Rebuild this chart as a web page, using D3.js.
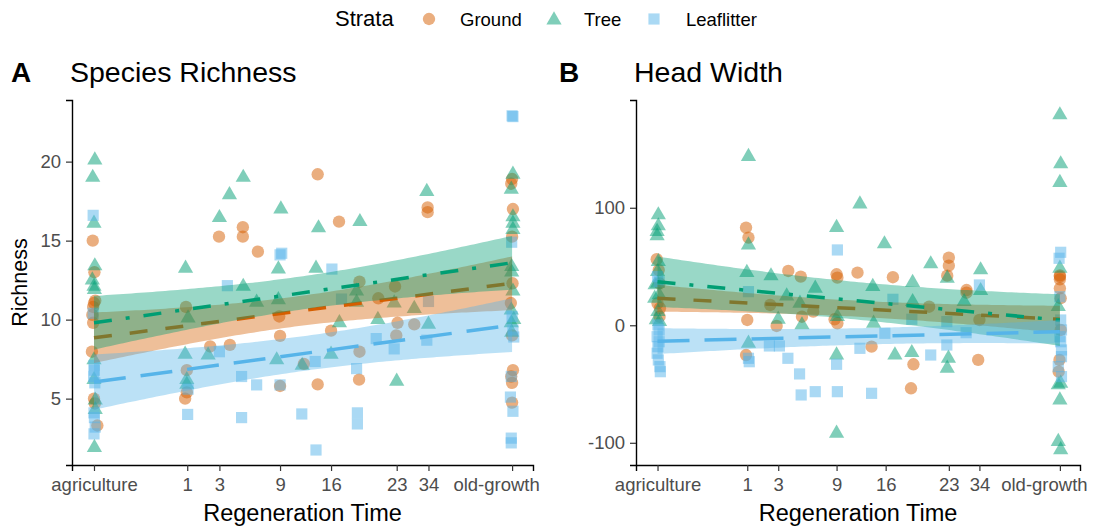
<!DOCTYPE html>
<html>
<head>
<meta charset="utf-8">
<script src="https://cdn.jsdelivr.net/npm/d3@7"></script>
<style>
  body { margin: 0; background: #fff; }
  svg { display: block; }
  text { font-family: "Liberation Sans", Arial, Helvetica, sans-serif; }
</style>
</head>
<body>
<svg id="chart" width="1093" height="526"></svg>
<script>
// ---- Categories and styling keys -------------------------------------------
const strata = ["Ground", "Tree", "Leaflitter"];
const strataColors = ["#D55E00", "#009E73", "#56B4E9"];

// Regeneration-time axis: sites placed on a 0 (agriculture) .. 100 (old-growth) position index
const timeTicks = [0, 22.3, 30, 44.5, 56.7, 72.4, 80, 100];
const timeTickLabels = ["agriculture", "1", "3", "9", "16", "23", "34", "old-growth"];

const richnessTicks = [5, 10, 15, 20];
const widthTicks = [-100, 0, 100];

// ---- Panel A: species richness observations [site position, richness] ------
const richnessGround = [
  [-0.3, 15.0], [0.1, 13.0], [0.3, 11.2], [0, 11.05], [-0.2, 10.8], [-0.4, 10.3], [-0.2, 9.8],
  [-0.5, 7.97], [0, 5.0], [0.2, 4.7], [0.8, 3.3],
  [22, 10.8], [22.2, 6.8], [22.2, 5.4], [21.8, 5.0],
  [27.8, 8.3], [29.9, 15.25], [32.5, 8.4], [35.6, 15.85], [35.6, 15.25], [39.2, 14.3],
  [44.3, 10.2], [44.5, 8.97], [44.5, 5.8], [50.2, 7.2], [53.5, 19.2], [53.5, 5.9],
  [56.7, 9.3], [58.6, 16.2], [63.5, 12.4], [63.5, 7.97], [63.4, 6.2], [68, 11.35],
  [72, 12.1], [72.6, 9.8], [72.3, 9.0], [76.6, 9.7], [79.8, 17.1], [79.8, 16.8],
  [100, 18.9], [99.8, 18.6], [100.2, 17.0], [100, 15.25], [100.1, 12.3], [99.7, 11.05],
  [100, 9.0], [100.2, 6.8], [99.8, 6.4], [100, 6.0], [100, 4.75]
];
const richnessTree = [
  [0.2, 20.1], [-0.3, 19.0], [0, 16.1], [0.2, 13.4], [-0.4, 12.5], [0, 12.1], [0.1, 11.9],
  [0, 7.45], [0, 6.2], [0.3, 4.9], [0.3, 4.3], [0.1, 1.9],
  [21.9, 13.25], [22.5, 10.1], [21.8, 7.8], [22.2, 6.2], [22.2, 5.9],
  [27.3, 7.75], [30, 16.45], [32.4, 17.9], [35.7, 19.0], [35.7, 12.1], [38.9, 11.1],
  [44.7, 17.0], [44.1, 13.2], [44.1, 11.25], [43.7, 7.45], [49.8, 7.1],
  [53.7, 15.8], [53.1, 13.25], [56.7, 7.8], [58.7, 9.8], [62.8, 11.8], [62.8, 11.1],
  [63.6, 16.2], [67.9, 10.0], [71.8, 11.05], [72.4, 6.1], [76.6, 10.7], [79.6, 18.1], [80, 9.7],
  [100.2, 19.2], [99.8, 18.25], [100.2, 16.5], [100.2, 16.1], [100.2, 15.7], [99.9, 13.35],
  [99.9, 13.0], [100.2, 11.8], [99.8, 10.6], [100.4, 10.0], [99.8, 9.8], [99.9, 9.2]
];
const richnessLeaf = [
  [-0.2, 16.6], [-0.2, 10.4], [0, 7.1], [0.1, 6.8], [-0.1, 6.4], [0.2, 6.0], [0, 4.1],
  [0.1, 3.8], [0.3, 3.2], [0, 2.77],
  [22.5, 5.6], [22.4, 4.0], [30, 7.97], [31.9, 12.15], [35.3, 6.4], [35.3, 3.8], [38.9, 5.87],
  [44.5, 14.1], [44.9, 14.2], [44.5, 5.87], [49.7, 4.03], [52.9, 7.35], [53.1, 1.75],
  [56.9, 13.2], [59.2, 11.3], [62.8, 6.9], [63, 4.1], [63, 3.4], [67.5, 8.8], [71.8, 8.15],
  [79.6, 8.7], [80, 11.15],
  [100, 22.9], [100.2, 22.85], [99.9, 14.9], [100, 10.2], [100.2, 9.35], [100.4, 8.9],
  [99.8, 6.4], [99.6, 5.1], [100.2, 4.2], [99.8, 2.5], [99.8, 2.2]
];

// Panel A fitted trends: value at agriculture and old-growth, CI half-widths at 0 / 50 / 100
const richnessFitStart = [8.85, 9.8, 6.05];
const richnessFitEnd = [12.3, 13.6, 9.65];
const richnessCI = [[1.6, 0.95, 1.7], [1.7, 1.05, 1.7], [1.75, 1.1, 1.7]];

// ---- Panel B: head width observations [site position, head width] ----------
const widthGround = [
  [-0.2, 56.2], [0.3, 47], [0.5, 35.7], [0, 18.7], [0.6, 14.5], [0.5, 7.3],
  [22, 83.1], [22.6, 74.6], [22.3, 4.5], [22, -25.3],
  [28, 17.3], [29.6, -0.6], [32.5, 46.2], [35.6, 41.4], [35.9, 7.3], [38.7, 11.6],
  [44.5, 43.4], [44.7, 40.5], [44, 5.1], [44.7, 1.7], [49.7, 44.8], [53.2, -18.2],
  [58.5, 40.9], [63, -53.6], [63.6, -33.2], [67.5, 15.8], [72.4, 57.5], [72.4, 50.7],
  [72, 42.2], [76.8, 30], [76.8, 27.7], [79.7, -29.5], [80, 4.5],
  [100, 42.5], [100, 41.4], [100, 39.1], [100, 31.5], [100.2, 23], [100.2, -4],
  [99.9, -29.5], [99.7, -39.5]
];
const widthTree = [
  [0.2, 93.9], [0.2, 84.5], [-0.1, 79.7], [-0.1, 76.0], [0.2, 54.1], [0, 45.6], [0, 35.7],
  [-0.6, 34.3], [0.4, 25.8], [-0.7, 23], [0.1, 11.6], [-0.3, 4.5], [0.5, 3.1],
  [22.6, 143.5], [22.6, 68.3], [22.2, 44.8], [22.6, -15.3],
  [28.2, 42], [30, 5.1], [32.1, 24.9], [35.4, 18.7], [35.9, 0.3], [39.2, 31.5],
  [44.5, 83.1], [44.7, 7.3], [44.5, -25.3], [44.5, -91.9], [50.3, 103.2],
  [53.5, 32.9], [53.7, 1.7], [56.4, 69.2], [59, -25.3], [63.4, 36.3], [63.4, 20.1],
  [63.2, -23.3], [67.9, 52.2], [72, 40], [72.3, -28.1], [72, -36.6], [76.2, 20.1],
  [80.3, 47.1], [80.3, 29.4],
  [100, 179], [100.2, 137.3], [100, 121.4], [100, 48.5], [99.6, 15.8], [100.2, -49.4],
  [99.6, -50.8], [100, -63.6], [99.6, -99], [100.2, -106]
];
const widthLeaf = [
  [0, 41.4], [0.4, 37.1], [0.1, 0.3], [0.4, -4], [-0.1, -9.7], [0.4, -14], [0.1, -18.2],
  [-0.1, -23.8], [0.2, -29.5], [0.6, -35.2], [0.7, -39.5],
  [22.6, 28.6], [22.6, -28.1], [22.8, -31],
  [27.8, -17.6], [30.3, -17.6], [32.4, -28.1], [35.3, -41.4], [35.7, -59.3], [39.2, -56.5],
  [44.7, 64.1], [44.5, -33.2], [44.7, -56.5], [50.3, -19.6], [53.2, -57.9], [56.5, -6.8],
  [58.5, 22.1], [63.2, 5.1], [67.9, -25.3], [71.9, 3.1], [71.9, -16.8], [76.7, -6.3],
  [80, 34.3],
  [100.2, 62.1], [99.8, 57.0], [100, 24.3], [100.2, 4.5], [100.4, -4], [100, -9.7],
  [100.2, -14], [100.4, -21], [100.4, -26.7], [99.6, -35.2], [100.4, -43.7]
];

// Panel B fitted trends
const widthFitStart = [23, 37, -13.5];
const widthFitEnd = [5.1, 4.4, -5.5];
const widthCI = [[11.4, 6.8, 11.5], [21.5, 16, 22], [11, 7, 10]];

// ---- Drawing -----------------------------------------------------------------
const svg = d3.select("#chart");
const symbolTypes = [d3.symbolCircle, d3.symbolTriangle, d3.symbolSquare];
const symbolSizes = [120, 100, 125];
const dashes = ["18,18", "18,14,4,14", "32,15"];
const tickGrey = "#4d4d4d";

// CI half-width along x: variance quadratic in x through the three given half-widths
function halfWidth(ci, x) {
  const a = ci[1] * ci[1];
  const b = (ci[2] * ci[2] - ci[0] * ci[0]) / 100;
  const c = ((ci[0] * ci[0] + ci[2] * ci[2]) / 2 - a) / 2500;
  const d = x - 50;
  return Math.sqrt(Math.max(0, a + b * d + c * d * d));
}

function drawPanel(cfg) {
  const g = svg.append("g");
  const x = d3.scaleLinear().domain(cfg.xDomain).range([cfg.left, cfg.right]);
  const y = d3.scaleLinear().domain(cfg.yDomain).range([cfg.bottom, cfg.top]);

  // points
  cfg.points.forEach((pts, i) => {
    g.append("g").selectAll("path").data(pts).join("path")
      .attr("transform", d => `translate(${x(d[0])},${y(d[1])})`)
      .attr("d", d3.symbol().type(symbolTypes[i]).size(symbolSizes[i]))
      .attr("fill", strataColors[i])
      .attr("fill-opacity", 0.5);
  });

  // ribbons and trend lines, one stratum at a time
  const xs = d3.range(0, 100.001, 1);
  strata.forEach((s, i) => {
    const fit = v => cfg.fitStart[i] + (cfg.fitEnd[i] - cfg.fitStart[i]) * v / 100;
    const area = d3.area()
      .x(v => x(v))
      .y0(v => y(fit(v) - halfWidth(cfg.ci[i], v)))
      .y1(v => y(fit(v) + halfWidth(cfg.ci[i], v)));
    g.append("path").attr("d", area(xs))
      .attr("fill", strataColors[i]).attr("fill-opacity", 0.4);
    g.append("path")
      .attr("d", d3.line().x(v => x(v)).y(v => y(fit(v)))([0, 100]))
      .attr("fill", "none")
      .attr("stroke", strataColors[i])
      .attr("stroke-width", 3.5)
      .attr("stroke-dasharray", dashes[i]);
  });

  // axes
  const xAxis = g.append("g").attr("transform", `translate(0,${cfg.bottom})`)
    .call(d3.axisBottom(x).tickValues(timeTicks)
      .tickFormat((d, k) => timeTickLabels[k]).tickSizeOuter(0).tickSize(6).tickPadding(5));
  const yAxis = g.append("g").attr("transform", `translate(${cfg.left},0)`)
    .call(d3.axisLeft(y).tickValues(cfg.yTicks).tickSizeOuter(0).tickSize(6).tickPadding(5)
      .tickFormat(d => d3.format("d")(d).replace("\u2212", "-")));
  [xAxis, yAxis].forEach(a => {
    a.select(".domain").attr("stroke", "#000").attr("stroke-width", 1.4);
    a.selectAll(".tick line").attr("stroke", "#333").attr("stroke-width", 1.2);
    a.selectAll(".tick text").attr("fill", tickGrey).style("font-size", "18.5px")
      .style("font-family", "'Liberation Sans', Arial, sans-serif");
  });
  xAxis.selectAll(".tick text").attr("dy", "0.8em");
  // the last label sits a little left of its tick
  xAxis.selectAll(".tick text").filter((d, k) => k === timeTicks.length - 1).attr("dx", -16);

  // titles
  svg.append("text").attr("x", cfg.tagX).attr("y", 82).text(cfg.tag)
    .style("font-size", "28px").style("font-weight", "bold").attr("fill", "#000");
  svg.append("text").attr("x", cfg.left - 2).attr("y", 82).text(cfg.title)
    .style("font-size", "28.5px").attr("fill", "#000");
  svg.append("text").attr("x", (cfg.left + cfg.right) / 2).attr("y", 521)
    .attr("text-anchor", "middle").text("Regeneration Time")
    .style("font-size", "23.5px").attr("fill", "#000");
  if (cfg.yTitle) {
    svg.append("text")
      .attr("transform", `translate(27,${(cfg.top + cfg.bottom) / 2}) rotate(-90)`)
      .attr("text-anchor", "middle").text(cfg.yTitle)
      .style("font-size", "21.5px").attr("fill", "#000");
  }
}

drawPanel({
  left: 72, right: 533, top: 100, bottom: 465,
  xDomain: [-5.26, 105.0], yDomain: [0.8, 23.9], yTicks: richnessTicks,
  points: [richnessGround, richnessTree, richnessLeaf],
  fitStart: richnessFitStart, fitEnd: richnessFitEnd, ci: richnessCI,
  tag: "A", tagX: 11, title: "Species Richness", yTitle: "Richness"
});
drawPanel({
  left: 636, right: 1080, top: 100, bottom: 465,
  xDomain: [-5.35, 105.0], yDomain: [-118.9, 191.7], yTicks: widthTicks,
  points: [widthGround, widthTree, widthLeaf],
  fitStart: widthFitStart, fitEnd: widthFitEnd, ci: widthCI,
  tag: "B", tagX: 559, title: "Head Width", yTitle: null
});

// ---- Legend ------------------------------------------------------------------
const legend = svg.append("g");
legend.append("text").attr("x", 335).attr("y", 26).text("Strata")
  .style("font-size", "22px").attr("fill", "#000");
const legendSymbolX = [429, 554, 654];
const legendTextX = [460, 584, 686];
strata.forEach((s, i) => {
  legend.append("path")
    .attr("transform", `translate(${legendSymbolX[i]},${i === 1 ? 20 : 19})`)
    .attr("d", d3.symbol().type(symbolTypes[i]).size(symbolSizes[i]))
    .attr("fill", strataColors[i]).attr("fill-opacity", 0.5);
  legend.append("text").attr("x", legendTextX[i]).attr("y", 25.5).text(s)
    .style("font-size", "18.5px").attr("fill", "#000");
});
</script>
</body>
</html>
